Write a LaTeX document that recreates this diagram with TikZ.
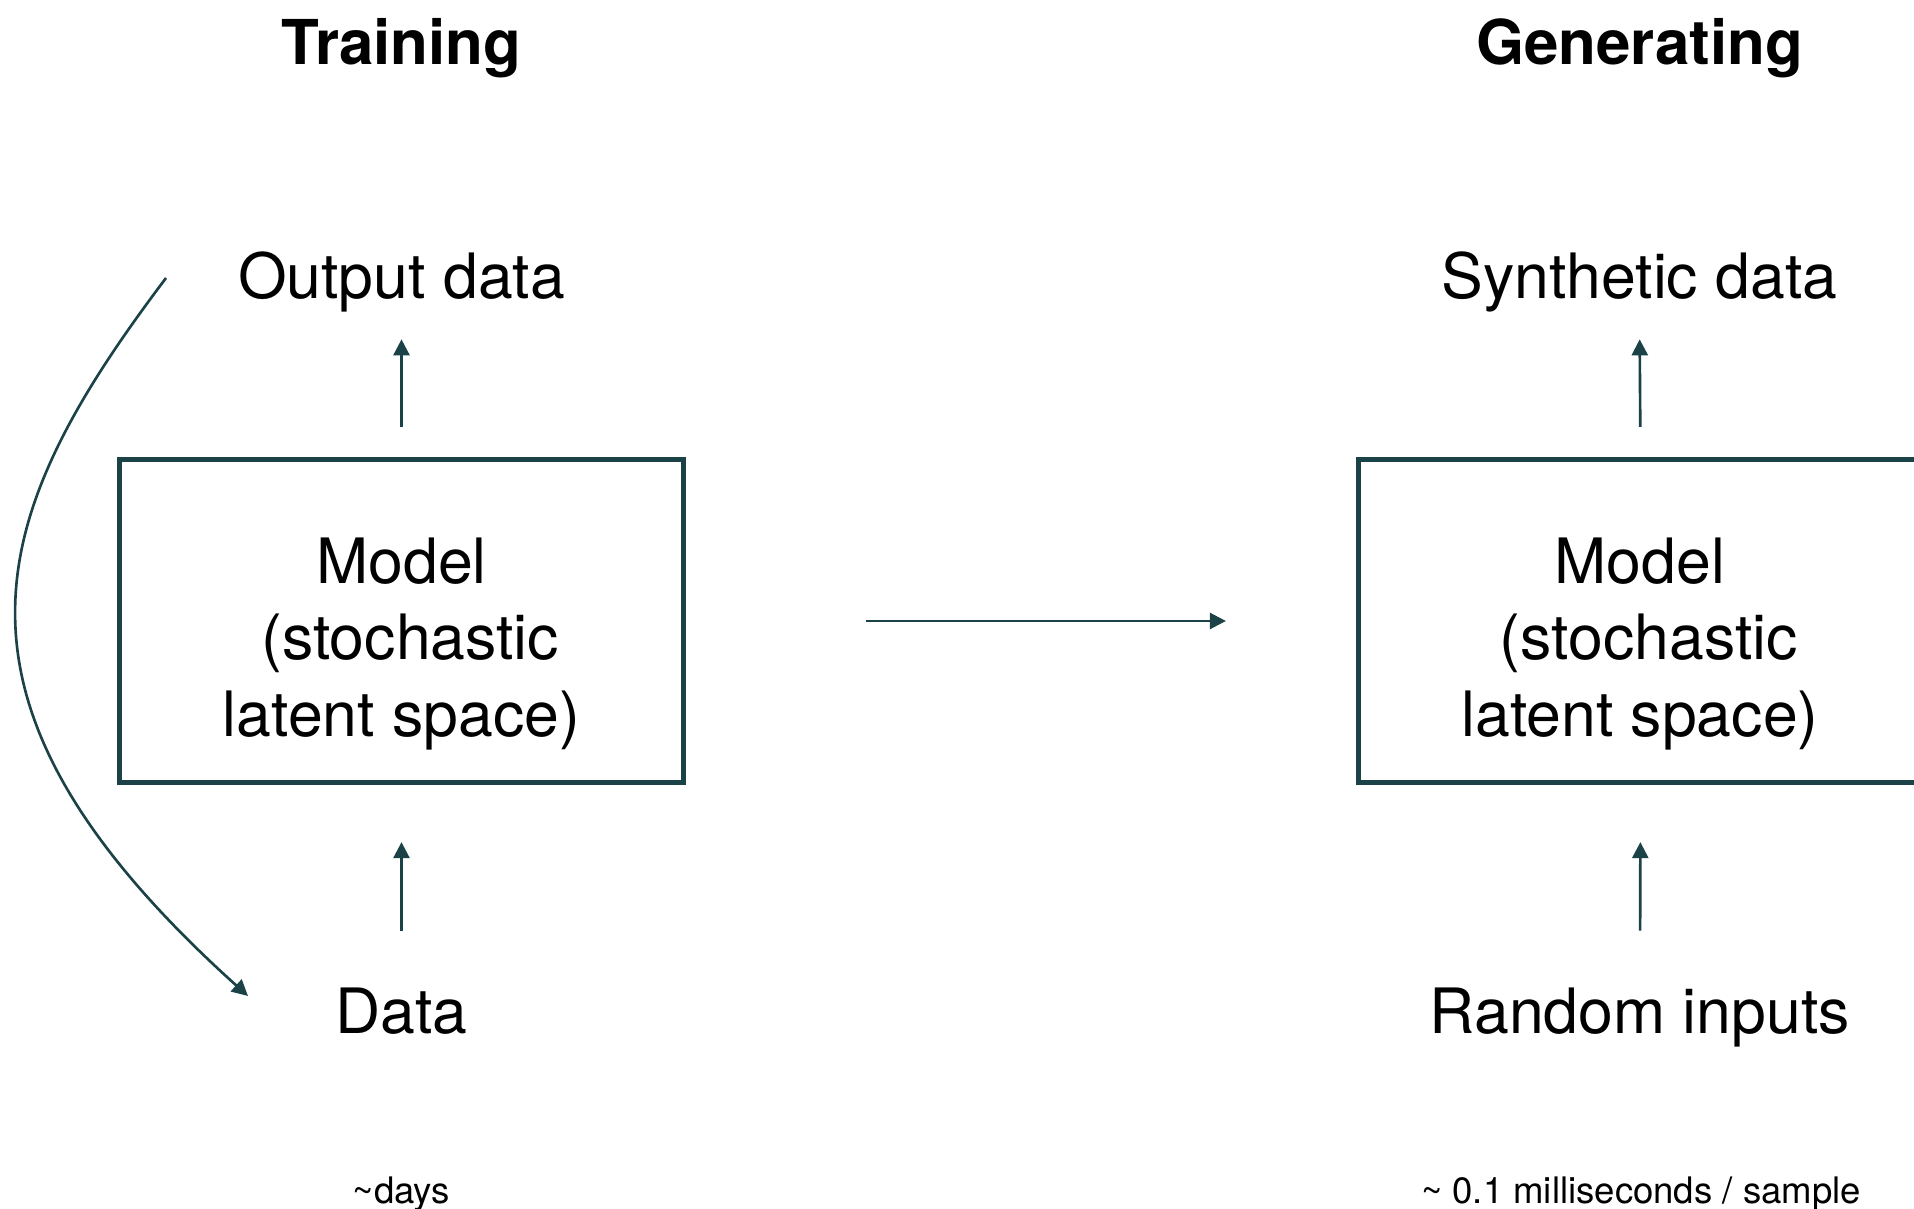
\documentclass[tikz,border=0pt]{standalone}
\usepackage{fontspec}
\setmainfont{TeX Gyre Heros}
\usetikzlibrary{positioning,arrows.meta}
\definecolor{tealc}{RGB}{27,66,71}
\tikzset{
  ttl/.style={inner sep=0pt,anchor=base,font=\fontsize{17.6pt}{21pt}\selectfont\bfseries},
  big/.style={inner sep=0pt,font=\fontsize{17.8pt}{21.9pt}\selectfont},
  note/.style={inner sep=0pt,anchor=base,font=\fontsize{10.4pt}{12pt}\selectfont},
  mdl/.style={rectangle,draw=tealc,line width=1.5pt,minimum width=56.4mm,minimum height=32.3mm,inner sep=0pt},
  edge/.style={-{Triangle[length=1.6mm,width=1.6mm]},color=tealc,line width=0.75pt}
}
\begin{document}
\begin{tikzpicture}[x=0.1mm,y=-0.1mm]
\clip (0,0) rectangle (1914,1209);
\node[ttl] (ttrain) at (401.5,65) {Training}; \node[ttl] (tgen) at (1639.5,65) {Generating};
\node[big,anchor=base] (lout) at (401.5,299) {Output data}; \node[big,anchor=base] (rout) at (1639.5,299) {Synthetic data};
\node[mdl] (lbox) at (401.5,621) {}; \node[mdl] (rbox) at (1640.5,621) {};
\node[big,align=center] (ltxt) at (401.5,644) {Model\\\mbox{ }(stochastic\\latent space)}; \node[big,align=center] (rtxt) at (1640,644) {Model\\\mbox{ }(stochastic\\latent space)};
\node[big,anchor=base] (ldata) at (401.5,1033) {Data}; \node[big,anchor=base] (rdata) at (1640,1033) {Random inputs};
\node[note] (ltime) at (401.5,1203) {\textasciitilde days}; \node[note] (rtime) at (1641,1203) {\textasciitilde\ 0.1 milliseconds / sample};
\draw[edge,shorten <=3mm,shorten >=2.6mm] (lbox.north)--(lout.south); \draw[edge,shorten <=3mm,shorten >=2.6mm] (rbox.north)--(rout.south);
\draw[edge,shorten <=5.6mm,shorten >=5.7mm] (ldata.north)--(lbox.south); \draw[edge,shorten <=5.6mm,shorten >=5.7mm] (rdata.north)--(rbox.south);
\draw[edge,shorten <=18mm,shorten >=13mm] (lbox.east)--(rbox.west);
\coordinate (fbtop) at (166,278); \coordinate (fbbot) at (248,996);
\draw[edge] (fbtop) .. controls (-12,514) and (-82,699) .. (fbbot);
\end{tikzpicture}
\end{document}
